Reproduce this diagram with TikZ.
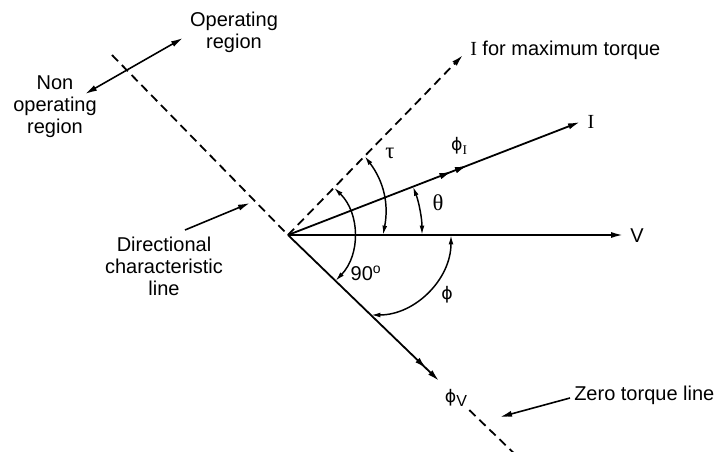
\documentclass[tikz,border=0pt]{standalone}
\usepackage{fontspec}
\setmainfont{Liberation Sans}
\newfontfamily\grk{Liberation Serif}
\newfontfamily\djv{DejaVu Sans}
\usetikzlibrary{arrows.meta,decorations.markings,calc}
\newcommand{\phisym}{{\djv\fontsize{13}{14}\selectfont ϕ}}
\begin{document}
\begin{tikzpicture}[x=0.75pt,y=0.75pt,
  bigtip/.tip={Latex[length=9pt,width=4.6pt]},
  smalltip/.tip={Latex[length=7pt,width=3.6pt]},
  vec/.style={line width=1.35pt,-bigtip},
  dsh/.style={line width=1.35pt,dash pattern=on 6.5pt off 4pt},
  angarc/.style={line width=1.1pt,smalltip-smalltip},
  pointer/.style={line width=1.2pt,-bigtip},
  lbl/.style={font=\fontsize{15}{16.5}\selectfont,inner sep=0pt,align=center},
  dblmark/.style={postaction={decorate},decoration={markings,
     mark=at position #1 with {\arrow{bigtip}}}}
]
\useasboundingbox (0,0) rectangle (720,-452);

% main coordinates
\coordinate (O) at (288,-235);
\coordinate (Vend) at (623,-235);
\coordinate (Iend) at (580,-122);
\coordinate (Tend) at (463,-55);
\coordinate (DLend) at (112,-55);
\coordinate (PVend) at ($(O)+(-44:210)$);
\coordinate (Z1) at ($(O)+(-44:252)$);
\coordinate (Z2) at ($(O)+(-44:320)$);

% lines
\draw[dsh] (DLend) -- (O);
\draw[dsh,-bigtip] (O) -- (Tend);
\draw[vec] (O) -- (Vend);
\draw[vec,dblmark=0.56,dblmark=0.613] (O) -- (Iend);
\draw[vec,dblmark=0.915] (O) -- (PVend);
\draw[dsh] (Z1) -- (Z2);

% angle arcs
\draw[angarc] ($(O)+(-44:66)$) arc[start angle=-44,end angle=45.8,radius=66];
\draw[angarc] ($(O)+(0:134)$) arc[start angle=0,end angle=21.2,radius=134];
\coordinate (tauA) at ($(O)+(45.8:110)$);
\coordinate (tauB) at ($(O)+(0:95)$);
\draw[angarc] (tauA) to[bend left=24] (tauB);
\draw[angarc] ($(O)+(0:163)$) arc[start angle=0,end angle=-90,radius=80];

% region arrows
\coordinate (nonA) at (85,-94);
\coordinate (opA) at (183,-38);
\draw[line width=1.2pt,bigtip-bigtip] (nonA) -- (opA);
\coordinate (dcT) at (185,-230);
\coordinate (dcH) at (250,-203);
\draw[pointer] (dcT) -- (dcH);
\coordinate (ztT) at (570,-398);
\coordinate (ztH) at (500,-417);
\draw[pointer] (ztT) -- (ztH);

% labels
\node[lbl] (op) at (234,-32) {Operating\\region};
\node[lbl] (nonop) at (55,-107) {Non\\operating\\region};
\node[lbl] (dcl) at (164,-266) {Directional\\characteristic\\line};
\node[lbl,anchor=west] (ztl) at (574,-395) {Zero torque line};
\node[lbl,anchor=west] (imax) at (470,-50) {{\grk I} for maximum torque};
\node[lbl] (lV) at (637,-236) {V};
\node[lbl] (lI) at (591,-122) {\grk I};
\node[lbl] (lphiI) at (459,-146) {\phisym\raisebox{-3pt}{\fontsize{10}{11}\selectfont\grk I}};
\node[lbl] (ltau) at (390,-153) {\grk\fontsize{17}{18}\selectfont τ};
\node[lbl] (ltheta) at (438,-203) {\grk\fontsize{17}{18}\selectfont θ};
\node[lbl] (l90) at (366,-273) {90\textsuperscript{o}};
\node[lbl] (lphi) at (447,-295) {\phisym};
\node[lbl] (lphiV) at (456,-398) {\phisym\raisebox{-3pt}{\fontsize{12}{13}\selectfont V}};
\end{tikzpicture}
\end{document}
